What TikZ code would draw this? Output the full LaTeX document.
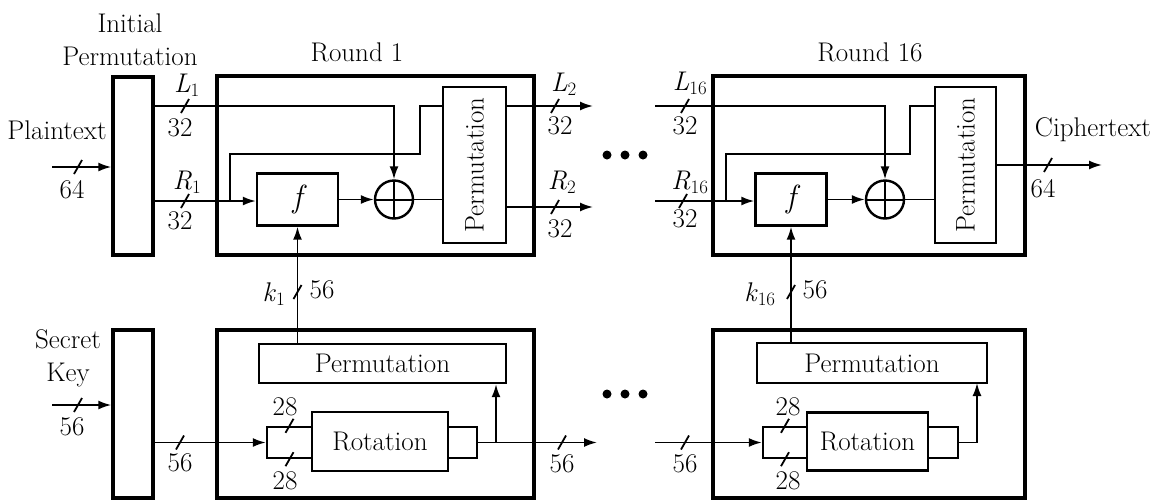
\documentclass[tikz,border=0pt]{standalone}
\usepackage{fontspec}
\usepackage{tikz}
\usetikzlibrary{positioning, arrows.meta, calc}

\tikzset{
  wire/.style={line width=1.8pt},
  tip/.style={-{Latex[length=13pt,width=9pt]}},
  frame/.style={draw, line width=3.4pt, inner sep=0pt},
  box/.style={draw, line width=2.4pt, inner sep=0pt},
  xorgate/.style={circle, draw, line width=2.4pt, minimum size=38pt, inner sep=0pt,
    path picture={\draw[line width=2pt] (path picture bounding box.north) -- (path picture bounding box.south)
      (path picture bounding box.west) -- (path picture bounding box.east);}},
}
\newcommand{\busmark}[1]{\draw[wire] ($(#1)+(-4,7)$) -- ($(#1)+(4,-7)$);}
\newcommand{\sig}[2]{\textit{#1}\textsubscript{#2}}

\begin{document}
\begin{tikzpicture}[x=1pt, y=-1pt, font=\fontsize{27}{31}\selectfont]
  \useasboundingbox (0,0) rectangle (1158,501);

  % data path: initial permutation and the two rounds
  \node[frame, minimum width=40pt, minimum height=178pt] (ipdata) at (133,166) {};
  \node[frame, minimum width=317pt, minimum height=179pt] (rnd1) at (375.5,165.5) {};
  \node[frame, minimum width=312pt, minimum height=179pt] (rnd16) at (869,165.5) {};
  \node[box, minimum width=81pt, minimum height=52pt, font=\fontsize{32}{36}\selectfont\itshape] (f1) at (297.5,199.5) {f};
  \node[box, minimum width=71pt, minimum height=52pt, font=\fontsize{32}{36}\selectfont\itshape] (f16) at (791,199.5) {f};
  \node[xorgate] (xor1) at (394,199.5) {};
  \node[xorgate] (xor16) at (885,199.5) {};
  \node[box, minimum width=63pt, minimum height=156pt,
        label={[rotate=90]center:Permutation}] (perm1) at (474.5,165) {};
  \node[box, minimum width=61pt, minimum height=156pt,
        label={[rotate=90]center:Permutation}] (perm16) at (965.5,165) {};

  % key schedule
  \node[frame, minimum width=40pt, minimum height=168pt] (ipkey) at (133,414) {};
  \node[frame, minimum width=317pt, minimum height=168pt] (ks1) at (375.5,414) {};
  \node[frame, minimum width=312pt, minimum height=168pt] (ks16) at (869,414) {};
  \node[box, minimum width=247pt, minimum height=39pt] (kperm1) at (382.5,363.5) {Permutation};
  \node[box, minimum width=230pt, minimum height=40pt] (kperm16) at (872,363) {Permutation};
  \node[box, minimum width=136pt, minimum height=59pt] (rot1) at (380,441.5) {Rotation};
  \node[box, minimum width=121pt, minimum height=58pt] (rot16) at (867.5,441.5) {Rotation};
  \node[box, minimum width=45pt, minimum height=31pt] (spl1) at (289.5,442.5) {};
  \node[box, minimum width=44pt, minimum height=31pt] (spl16) at (785,442.5) {};
  \node[box, minimum width=29pt, minimum height=31pt] (join1) at (462.5,442.5) {};
  \node[box, minimum width=30pt, minimum height=31pt] (join16) at (943,442.5) {};

  % titles
  \node[align=center, font=\fontsize{27}{33}\selectfont] (iplab) at (130,40) {Initial\\Permutation};
  \node (rnd1lab) at (357,52) {Round 1};
  \node (rnd16lab) at (870,52) {Round 16};
  \node (plainlab) at (57,130) {Plaintext};
  \node (cipherlab) at (1093,130) {Ciphertext};
  \node[align=center, font=\fontsize{27}{33}\selectfont] (keylab) at (68,358) {Secret\\Key};

  % free ends and bends
  \coordinate (plainin) at (52,167);
  \coordinate (keyin) at (52,405);
  \coordinate (l1) at (185,106);
  \coordinate (r1) at (185,201);
  \coordinate (l2) at (555,106);
  \coordinate (r2) at (555,207);
  \coordinate (l2end) at (593,106);
  \coordinate (r2end) at (593,207);
  \coordinate (l16in) at (655,106);
  \coordinate (r16in) at (655,201);
  \coordinate (l16) at (685,106);
  \coordinate (r16) at (683,201);
  \coordinate (br1) at (230,201);
  \coordinate (bend1) at (420,154);
  \coordinate (br16) at (726,201);
  \coordinate (bend16) at (910,154);
  \coordinate (cipherend) at (1102,165);
  \coordinate (cs) at (1048,165);
  \coordinate (ps) at (78,167);
  \coordinate (ks) at (78,405);
  \coordinate (k1s) at (297.5,292);
  \coordinate (k16s) at (791,292);
  \coordinate (kin1s) at (180,442.5);
  \coordinate (kbr1) at (496,442.5);
  \coordinate (kout1) at (597,442.5);
  \coordinate (kout1s) at (562,442.5);
  \coordinate (kin16) at (655,442.5);
  \coordinate (kin16s) at (685,442.5);
  \coordinate (kup16) at (977,383);

  % round 1 wires
  \draw[wire, tip] (plainin) -- (ipdata.west |- plainin);
  \draw[wire, tip] (ipdata.east |- l1) -| (xor1.north);
  \draw[wire, tip] (ipdata.east |- r1) -- (f1.west |- r1);
  \draw[wire] (br1) |- (bend1) |- (perm1.west |- l1);
  \draw[wire, tip] (f1.east) -- (xor1.west);
  \draw[wire] (xor1.east) -- (perm1.west |- xor1.east);
  \draw[wire, tip] (perm1.east |- l2) -- (l2end);
  \draw[wire, tip] (perm1.east |- r2) -- (r2end);

  % round 16 wires
  \draw[wire, tip] (l16in) -| (xor16.north);
  \draw[wire, tip] (r16in) -- (f16.west |- r16in);
  \draw[wire] (br16) |- (bend16) |- (perm16.west |- l16in);
  \draw[wire, tip] (f16.east) -- (xor16.west);
  \draw[wire] (xor16.east) -- (perm16.west |- xor16.east);
  \draw[wire, tip] (perm16.east) -- (cipherend);

  % key wires
  \draw[wire, tip] (keyin) -- (ipkey.west |- keyin);
  \draw[wire, tip] (ipkey.east |- spl1.west) -- (spl1.west);
  \draw[wire, tip] (f1.south |- kperm1.north) -- (f1.south);
  \draw[wire, tip] (join1.east) -- (kout1);
  \draw[wire, tip] (kbr1) -- (kbr1 |- kperm1.south);
  \draw[wire, tip] (kin16) -- (spl16.west);
  \draw[wire, tip] (f16.south |- kperm16.north) -- (f16.south);
  \draw[wire, tip] (join16.east) -| (kup16);

  % bus widths
  \busmark{ps} \busmark{ks} \busmark{l1} \busmark{r1} \busmark{l2} \busmark{r2}
  \busmark{l16} \busmark{r16} \busmark{cs} \busmark{k1s} \busmark{k16s}
  \busmark{kin1s} \busmark{kout1s} \busmark{kin16s}
  \busmark{spl1.north} \busmark{spl1.south} \busmark{spl16.north} \busmark{spl16.south}

  \node (pw) at (72,190) {64};
  \node (kw) at (72,427) {56};
  \node (l1lab) at (187,85) {\sig{L}{1}};
  \node (l1w) at (180,128) {32};
  \node (r1lab) at (187,182) {\sig{R}{1}};
  \node (r1w) at (180,221) {32};
  \node (l2lab) at (564,84) {\sig{L}{2}};
  \node (l2w) at (560,126) {32};
  \node (r2lab) at (562,182) {\sig{R}{2}};
  \node (r2w) at (560,229) {32};
  \node (l16lab) at (690,83) {\sig{L}{16}};
  \node (l16w) at (685,126) {32};
  \node (r16lab) at (690,182) {\sig{R}{16}};
  \node (r16w) at (685,219) {32};
  \node (cw) at (1043,189) {64};
  \node (k1lab) at (274,294) {\sig{k}{1}};
  \node (k1w) at (322,290) {56};
  \node (k16lab) at (760,294) {\sig{k}{16}};
  \node (k16w) at (815,290) {56};
  \node (kin1w) at (180,463) {56};
  \node (kout1w) at (562,464) {56};
  \node (kin16w) at (685,464) {56};
  \node (s1t) at (285,407) {28};
  \node (s1b) at (285,481) {28};
  \node (s16t) at (788,407) {28};
  \node (s16b) at (788,481) {28};

  % ellipses between the rounds
  \foreach \x in {607,625,643} {
    \fill (\x,155) circle (4.5);
    \fill (\x,394) circle (4.5);
  }
\end{tikzpicture}
\end{document}
